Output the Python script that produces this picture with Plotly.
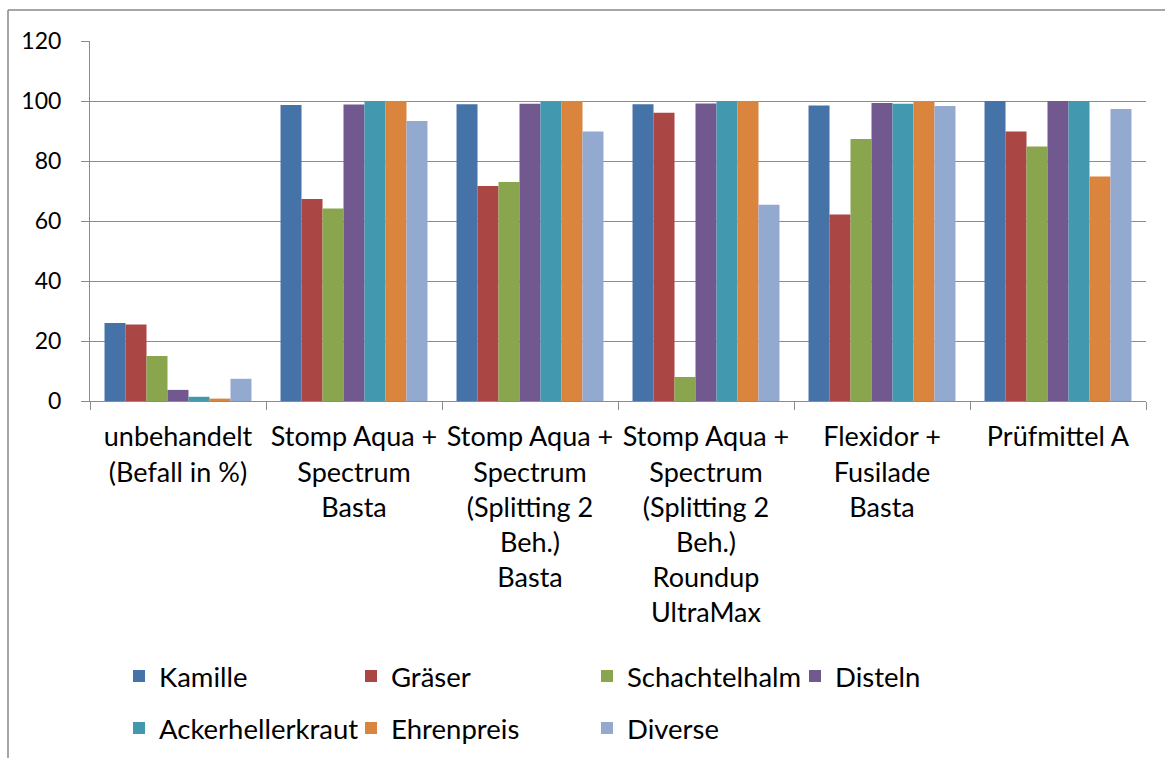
import plotly.graph_objects as go

categories = [
    "unbehandelt<br>(Befall in %)",
    "Stomp Aqua +<br>Spectrum<br>Basta",
    "Stomp Aqua +<br>Spectrum<br>(Splitting 2<br>Beh.)<br>Basta",
    "Stomp Aqua +<br>Spectrum<br>(Splitting 2<br>Beh.)<br>Roundup<br>UltraMax",
    "Flexidor +<br>Fusilade<br>Basta",
    "Prüfmittel A",
]

kamille = [26, 98.7, 98.9, 98.9, 98.5, 100]
graeser = [25.5, 67.3, 71.7, 96.1, 62.2, 89.8]
schachtelhalm = [15, 64.2, 73, 8, 87.3, 84.8]
disteln = [3.7, 98.8, 99.1, 99.2, 99.3, 100]
ackerhellerkraut = [1.4, 100, 99.8, 100, 99.1, 100]
ehrenpreis = [0.8, 100, 100, 100, 100, 74.8]
diverse = [7.4, 93.3, 89.8, 65.4, 98.3, 97.3]

series_names = ["Kamille", "Gräser", "Schachtelhalm", "Disteln",
                "Ackerhellerkraut", "Ehrenpreis", "Diverse"]
series_values = [kamille, graeser, schachtelhalm, disteln,
                 ackerhellerkraut, ehrenpreis, diverse]
colors = ["#4572A7", "#AA4643", "#89A54E", "#71588F",
          "#4198AF", "#DB843D", "#93A9CF"]

FONT = "Lato"
W, H = 1165, 758
L, R, T, B = 90, 1146, 41, 401

def px_x(px):
    return (px - L) / (R - L)

def px_y(py):
    return (B - py) / (B - T)

# legend item positions (swatch left, row centre) in pixels
legend_pos = [(137, 676), (369, 676), (605, 676), (813, 676),
              (137, 728), (369, 728), (605, 728)]

fig = go.Figure()
legend_layout = {}
for i, (name, vals, col) in enumerate(zip(series_names, series_values, colors)):
    key = "legend" if i == 0 else f"legend{i+1}"
    fig.add_trace(go.Bar(
        x=categories, y=vals, name=name,
        marker=dict(color=col, line=dict(width=0)),
        legend=key,
    ))
    sx, sy = legend_pos[i]
    legend_layout[key] = dict(
        xref="container", yref="container",
        x=(sx - 18) / W, y=1 - sy / H, xanchor="left", yanchor="middle",
        orientation="h", bgcolor="rgba(0,0,0,0)", borderwidth=0,
        font=dict(family=FONT, size=27.5, color="#000000"),
    )

grid_col = "#8C8C8C"

fig.update_layout(
    width=W, height=H,
    margin=dict(l=L, r=W - R, t=T, b=H - B, autoexpand=False),
    paper_bgcolor="white", plot_bgcolor="white",
    barmode="group", bargap=0.165, bargroupgap=0,
    showlegend=True,
    font=dict(family=FONT, color="#000000"),
    xaxis=dict(
        type="category", automargin=False,
        showline=True, linecolor=grid_col, linewidth=1,
        ticks="outside", tickson="boundaries", ticklen=8,
        tickcolor=grid_col, tickwidth=1,
        showgrid=False,
        tickfont=dict(family=FONT, size=27, color="#000000"),
        ticklabelstandoff=12,
    ),
    yaxis=dict(
        range=[0, 120], dtick=20, tick0=0, automargin=False,
        showline=True, linecolor=grid_col, linewidth=1,
        showgrid=True, gridcolor=grid_col, gridwidth=1,
        ticks="outside", ticklen=8, tickcolor=grid_col, tickwidth=1,
        zeroline=False,
        tickfont=dict(family=FONT, size=23, color="#000000"),
        ticklabelstandoff=15,
    ),
    **legend_layout,
)

# outer chart border (left and top edges visible)
fig.add_shape(type="line", xref="paper", yref="paper",
              x0=px_x(8), x1=px_x(8), y0=px_y(10), y1=px_y(H + 5),
              line=dict(color="#898989", width=1.5))
fig.add_shape(type="line", xref="paper", yref="paper",
              x0=px_x(8), x1=px_x(W + 5), y0=px_y(10), y1=px_y(10),
              line=dict(color="#898989", width=1.5))

fig.write_html("out.html",
               config={"displayModeBar": False},
               post_script="document.body.style.margin='0px';"
                           "document.body.style.overflow='hidden';")
